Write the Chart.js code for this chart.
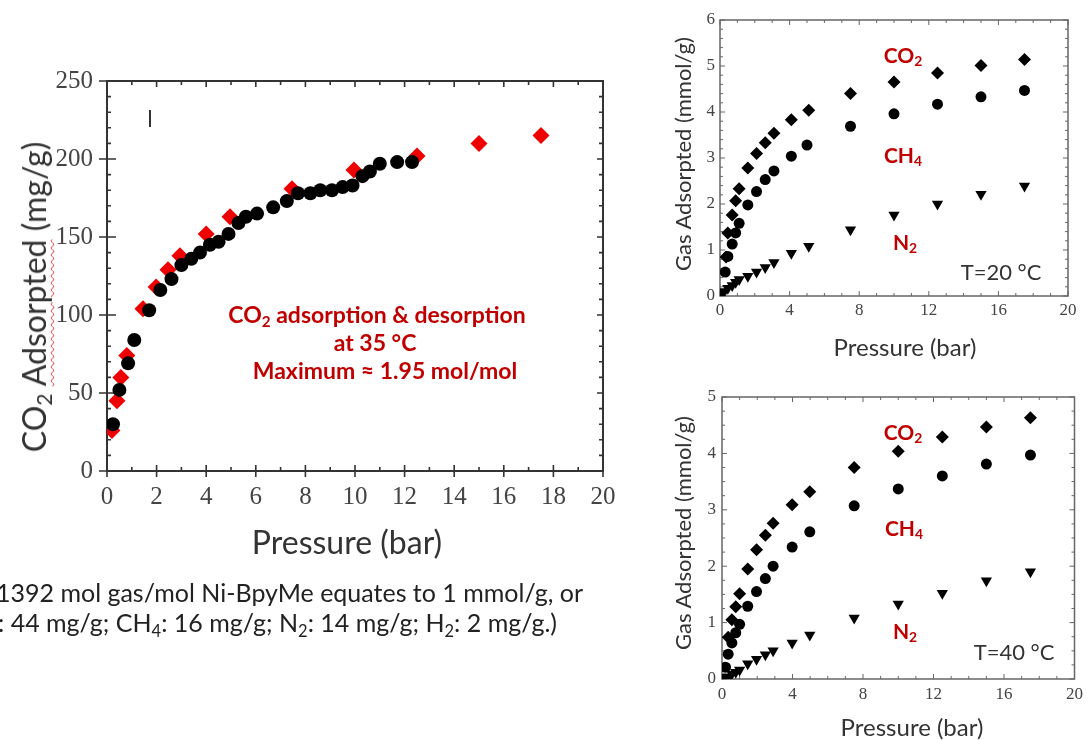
<!DOCTYPE html>
<html>
<head>
<meta charset="utf-8">
<script src="https://cdn.jsdelivr.net/npm/chart.js@4.4.0/dist/chart.umd.min.js"></script>
<style>
html, body { margin: 0; padding: 0; background: #fff; }
#page { position: relative; width: 1088px; height: 740px; overflow: hidden; background: #fff; }
canvas { position: absolute; left: 0; top: 0; }
.t { position: absolute; white-space: nowrap; line-height: 1; transform: translate(-50%, -50%);
     font-family: Lato, "Open Sans", sans-serif; color: #333; }
.rot { transform: translate(-50%, -50%) rotate(-90deg); }
.red { color: #c00000; font-weight: bold; }
.wavy { text-decoration: underline wavy #e53333; text-decoration-thickness: 1px; text-underline-offset: 4px; }
sub { font-size: 0.66em; vertical-align: -0.28em; line-height: 0; }
.note { position: absolute; white-space: nowrap; font-family: Lato, "Open Sans", sans-serif; color: #222; font-size: 25px; line-height: 1; }
</style>
</head>
<body>
<div id="page">
<canvas id="left" width="1088" height="740"></canvas>
<canvas id="top" width="1088" height="740"></canvas>
<canvas id="bottom" width="1088" height="740"></canvas>

<!-- left chart texts -->
<div class="t rot" style="left:34px;top:297px;font-size:32px;">CO<sub>2</sub> <span class="wavy">Adsorpted</span> (mg/g)</div>
<div class="t" style="left:347px;top:542px;font-size:32px;">Pressure (bar)</div>
<div class="t red" style="left:377px;top:314px;font-size:23px;">CO<sub>2</sub> adsorption &amp; desorption</div>
<div class="t red" style="left:375px;top:342px;font-size:23px;">at 35 °C</div>
<div class="t red" style="left:385px;top:370px;font-size:23px;">Maximum ≈ 1.95 mol/mol</div>
<div style="position:absolute;left:149px;top:110px;width:1.5px;height:17px;background:#333;"></div>

<div class="note" style="left:-4px;top:580px;">1392 mol gas/mol Ni-BpyMe equates to 1 mmol/g, or</div>
<div class="note" style="left:-2px;top:610px;">: 44 mg/g; CH<sub>4</sub>: 16 mg/g; N<sub>2</sub>: 14 mg/g; H<sub>2</sub>: 2 mg/g.)</div>

<!-- top right texts -->
<div class="t rot" style="left:683px;top:154px;font-size:22px;">Gas Adsorpted (mmol/g)</div>
<div class="t" style="left:905px;top:347px;font-size:24px;">Pressure (bar)</div>
<div class="t red" style="left:903px;top:54px;font-size:21px;">CO<sub>2</sub></div>
<div class="t red" style="left:903px;top:154px;font-size:21px;">CH<sub>4</sub></div>
<div class="t red" style="left:905px;top:241px;font-size:21px;">N<sub>2</sub></div>
<div class="t" style="left:1001px;top:272px;font-size:22px;">T=20 °C</div>

<!-- bottom right texts -->
<div class="t rot" style="left:683px;top:533px;font-size:22px;">Gas Adsorpted (mmol/g)</div>
<div class="t" style="left:912px;top:727px;font-size:24px;">Pressure (bar)</div>
<div class="t red" style="left:903px;top:431px;font-size:21px;">CO<sub>2</sub></div>
<div class="t red" style="left:904px;top:527px;font-size:21px;">CH<sub>4</sub></div>
<div class="t red" style="left:905px;top:630px;font-size:21px;">N<sub>2</sub></div>
<div class="t" style="left:1014px;top:652px;font-size:22px;">T=40 °C</div>
</div>

<script>
// CO2 at 35 C (mg/g) - adsorption (black) and desorption (red)
var adsP = [0.24, 0.5, 0.85, 1.1, 1.7, 2.15, 2.6, 3.0, 3.4, 3.75, 4.15, 4.5, 4.9, 5.3, 5.6, 6.05, 6.7, 7.25, 7.7, 8.2, 8.6, 9.07, 9.5, 9.9, 10.3, 10.6, 11.0, 11.7, 12.3];
var adsQ = [30, 52, 69, 84, 103, 116, 123, 132, 136, 140, 145, 147, 152, 159, 163, 165, 169, 173, 178, 178, 180, 180, 182, 183, 189, 192, 197, 198, 198];
var desP = [0.2, 0.4, 0.56, 0.8, 1.45, 1.98, 2.46, 2.94, 4.0, 4.96, 7.46, 9.96, 12.5, 15.0, 17.5];
var desQ = [26, 45, 60, 74, 104, 118, 129, 138, 152, 163, 181, 193, 202, 210, 215];

// T = 20 C (mmol/g)
var co2P20 = [0.35, 0.45, 0.7, 0.9, 1.1, 1.6, 2.1, 2.6, 3.1, 4.1, 5.1, 7.5, 10, 12.5, 15, 17.5];
var co2Q20 = [0.85, 1.37, 1.76, 2.07, 2.33, 2.78, 3.1, 3.33, 3.54, 3.83, 4.04, 4.4, 4.65, 4.85, 5.01, 5.14];
var ch4P20 = [0.3, 0.45, 0.7, 0.9, 1.1, 1.6, 2.1, 2.6, 3.1, 4.1, 5.0, 7.5, 10, 12.5, 15, 17.5];
var ch4Q20 = [0.52, 0.86, 1.13, 1.37, 1.58, 1.98, 2.27, 2.53, 2.72, 3.04, 3.28, 3.69, 3.96, 4.17, 4.33, 4.47];
var n2P20 = [0.1, 0.25, 0.45, 0.7, 0.9, 1.1, 1.6, 2.1, 2.6, 3.1, 4.1, 5.1, 7.5, 10, 12.5, 15, 17.5];
var n2Q20 = [0.05, 0.1, 0.17, 0.23, 0.3, 0.36, 0.43, 0.52, 0.62, 0.73, 0.93, 1.08, 1.44, 1.76, 2.0, 2.21, 2.39];

// T = 40 C (mmol/g)
var co2P40 = [0.35, 0.56, 0.78, 1.0, 1.46, 1.96, 2.46, 2.9, 3.98, 4.98, 7.5, 10, 12.5, 15, 17.5];
var co2Q40 = [0.74, 1.05, 1.28, 1.51, 1.95, 2.29, 2.55, 2.76, 3.09, 3.32, 3.75, 4.04, 4.29, 4.47, 4.63];
var ch4P40 = [0.2, 0.35, 0.56, 0.78, 1.0, 1.46, 1.96, 2.46, 2.9, 3.98, 4.98, 7.5, 10, 12.5, 15, 17.5];
var ch4Q40 = [0.21, 0.44, 0.64, 0.82, 0.97, 1.29, 1.55, 1.78, 2.0, 2.34, 2.61, 3.07, 3.37, 3.6, 3.81, 3.97];
var n2P40 = [0.1, 0.35, 0.56, 0.78, 1.0, 1.46, 1.96, 2.46, 2.9, 3.98, 4.98, 7.5, 10, 12.5, 15, 17.5];
var n2Q40 = [0.03, 0.04, 0.09, 0.12, 0.16, 0.27, 0.35, 0.43, 0.5, 0.64, 0.78, 1.08, 1.33, 1.52, 1.74, 1.9];

function pts(xs, ys) {
    var out = [];
    for (var i = 0; i < xs.length; i++) out.push({x: xs[i], y: ys[i]});
    return out;
}

function series(xs, ys, style, r, color, order, rot) {
    return {
        data: pts(xs, ys),
        pointStyle: style,
        pointRadius: r,
        pointRotation: rot || 0,
        pointBackgroundColor: color,
        pointBorderColor: color,
        pointBorderWidth: 0,
        order: order
    };
}

function steps(a, b, s) {
    var v = [];
    for (var k = 0; a + k * s <= b + 1e-9; k++) v.push(+(a + k * s).toFixed(4));
    return v;
}

// box + tick marks drawn on all four sides (inside / crossing like the original plots)
var framePlugin = {
    id: 'frame',
    beforeDatasetsDraw: function(chart, args, o) {
        var ctx = chart.ctx, a = chart.chartArea;
        var xs = chart.scales.x, ys = chart.scales.y;
        ctx.save();
        ctx.strokeStyle = o.color;
        ctx.lineWidth = o.width;
        ctx.strokeRect(a.left, a.top, a.right - a.left, a.bottom - a.top);
        ctx.lineWidth = o.tickWidth;
        ctx.beginPath();
        steps(xs.min, xs.max, o.xMinor).forEach(function(v) {
            var p = xs.getPixelForValue(v);
            var major = Math.abs(v / o.xMajor - Math.round(v / o.xMajor)) < 1e-6;
            if (major) {
                ctx.moveTo(p, a.bottom + o.bOut); ctx.lineTo(p, a.bottom - o.bIn);
                ctx.moveTo(p, a.top); ctx.lineTo(p, a.top + o.tIn);
            } else {
                ctx.moveTo(p, a.bottom); ctx.lineTo(p, a.bottom - o.minor);
                ctx.moveTo(p, a.top); ctx.lineTo(p, a.top + o.minor);
            }
        });
        steps(ys.min, ys.max, o.yMinor).forEach(function(v) {
            var p = ys.getPixelForValue(v);
            var major = Math.abs(v / o.yMajor - Math.round(v / o.yMajor)) < 1e-6;
            if (major) {
                ctx.moveTo(a.left - o.lOut, p); ctx.lineTo(a.left + o.lIn, p);
                ctx.moveTo(a.right, p); ctx.lineTo(a.right - o.rIn, p);
            } else {
                ctx.moveTo(a.left, p); ctx.lineTo(a.left + o.minor, p);
                ctx.moveTo(a.right, p); ctx.lineTo(a.right - o.minor, p);
            }
        });
        ctx.stroke();
        ctx.restore();
    }
};

function makeChart(id, datasets, box, xopt, yopt, frame) {
    return new Chart(document.getElementById(id), {
        type: 'scatter',
        data: {datasets: datasets},
        options: {
            responsive: false,
            animation: false,
            devicePixelRatio: 1,
            layout: {padding: {left: box.L - box.yw, right: 1088 - box.R, top: box.T, bottom: 740 - box.B - box.xh}},
            plugins: {legend: {display: false}, tooltip: {enabled: false}, frame: frame},
            scales: {
                x: {
                    type: 'linear', min: xopt.min, max: xopt.max,
                    grid: {display: false, drawTicks: false}, border: {display: false},
                    ticks: {stepSize: xopt.step, padding: xopt.pad, color: '#444', maxRotation: 0, autoSkip: false,
                            font: {family: '"Liberation Serif", serif', size: xopt.font}},
                    afterFit: function(s) { s.height = box.xh; }
                },
                y: {
                    type: 'linear', min: yopt.min, max: yopt.max,
                    grid: {display: false, drawTicks: false}, border: {display: false},
                    ticks: {stepSize: yopt.step, padding: yopt.pad, color: '#444', autoSkip: false,
                            font: {family: '"Liberation Serif", serif', size: yopt.font}},
                    afterFit: function(s) { s.width = box.yw; }
                }
            }
        },
        plugins: [framePlugin]
    });
}

// left: CO2 at 35 C
makeChart('left', [
    series(adsP, adsQ, 'circle', 7, '#000', 0),
    series(desP, desQ, 'rectRot', 8.5, '#ee0000', 1)
], {L: 107, R: 603, T: 81, B: 471, yw: 80, xh: 50},
   {min: 0, max: 20, step: 2, pad: 11, font: 25},
   {min: 0, max: 250, step: 50, pad: 14, font: 25},
   {color: '#333', width: 2, tickWidth: 1.6, xMajor: 2, xMinor: 1, yMajor: 50, yMinor: 10,
    bIn: 6, bOut: 6, lIn: 9, lOut: 8, tIn: 6, rIn: 6, minor: 4});

// top right: T = 20 C
makeChart('top', [
    series(co2P20, co2Q20, 'rectRot', 6.5, '#000', 0),
    series(ch4P20, ch4Q20, 'circle', 5.5, '#000', 1),
    series(n2P20, n2Q20, 'triangle', 6.5, '#000', 2, 180)
], {L: 720, R: 1068, T: 20, B: 296, yw: 40, xh: 30},
   {min: 0, max: 20, step: 4, pad: 4, font: 17},
   {min: 0, max: 6, step: 1, pad: 5, font: 17},
   {color: '#666', width: 1.5, tickWidth: 1, xMajor: 4, xMinor: 1, yMajor: 1, yMinor: 0.2,
    bIn: 5, bOut: 0, lIn: 5, lOut: 0, tIn: 5, rIn: 5, minor: 3});

// bottom right: T = 40 C
makeChart('bottom', [
    series(co2P40, co2Q40, 'rectRot', 6.5, '#000', 0),
    series(ch4P40, ch4Q40, 'circle', 5.5, '#000', 1),
    series(n2P40, n2Q40, 'triangle', 6.5, '#000', 2, 180)
], {L: 722, R: 1079, T: 397, B: 679, yw: 40, xh: 30},
   {min: 0, max: 20, step: 4, pad: 5, font: 17},
   {min: 0, max: 5, step: 1, pad: 6, font: 17},
   {color: '#666', width: 1.5, tickWidth: 1, xMajor: 4, xMinor: 1, yMajor: 1, yMinor: 0.25,
    bIn: 5, bOut: 0, lIn: 5, lOut: 0, tIn: 5, rIn: 5, minor: 3});
</script>
</body>
</html>
